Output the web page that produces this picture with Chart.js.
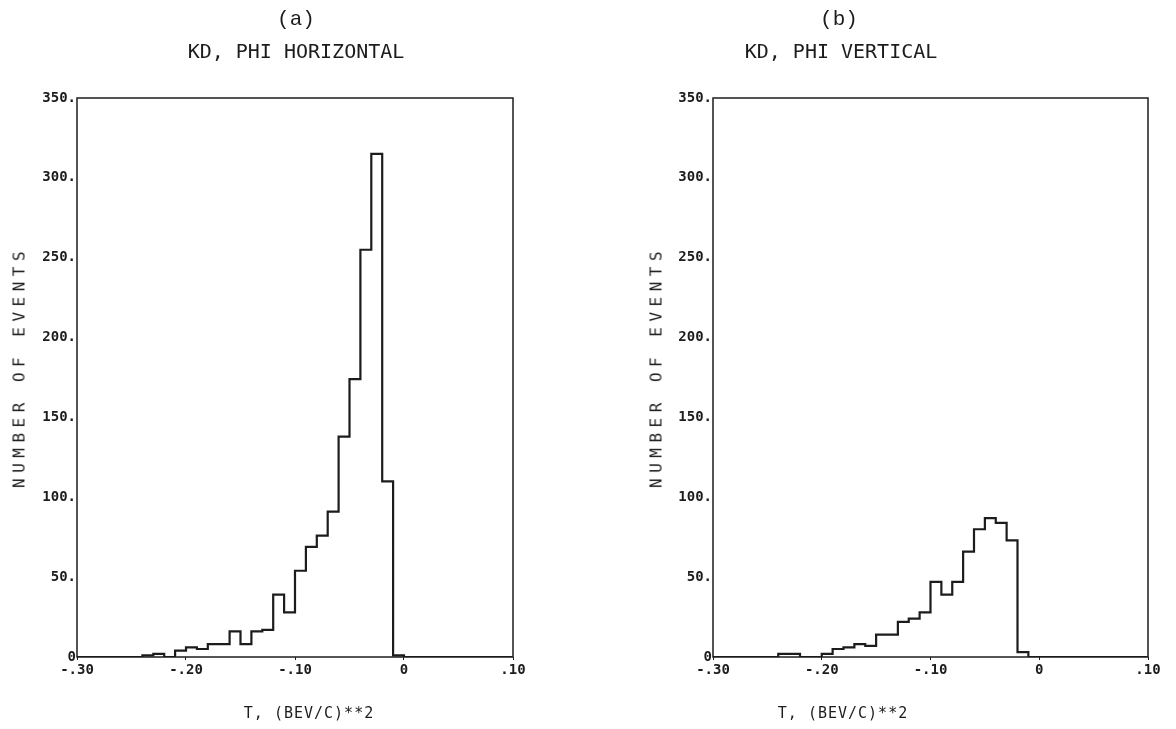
<!DOCTYPE html>
<html lang="en">
<head>
<meta charset="UTF-8">
<title>KD, t distributions</title>
<script src="https://cdn.jsdelivr.net/npm/chart.js"></script>
<style>
  body { margin: 0; background: #fff; }
  .page { position: relative; width: 1176px; height: 729px; overflow: hidden; }
  .page canvas { position: absolute; top: 0; }
  .txt { position: absolute; color: #1c1c1c; white-space: nowrap; transform: translate(-50%, -50%); }
  .tag { font: 21px "Liberation Mono", monospace; }
  .title { font: 20px "DejaVu Sans Mono", monospace; }
  .xtitle { font: 15px "DejaVu Sans Mono", monospace; letter-spacing: 1px; }
  .ytitle { font: 16px "DejaVu Sans Mono", monospace; letter-spacing: 5.5px; transform: translate(-50%, -50%) rotate(-90deg); }
</style>
</head>
<body>
<div class="page">
  <canvas id="chartH" width="588" height="729" style="left:0"></canvas>
  <canvas id="chartV" width="588" height="729" style="left:588px"></canvas>

  <div class="txt tag" style="left:296px; top:19px">(a)</div>
  <div class="txt title" style="left:296px; top:51px">KD, PHI HORIZONTAL</div>
  <div class="txt ytitle" style="left:19px; top:367px">NUMBER OF EVENTS</div>
  <div class="txt xtitle" style="left:309px; top:713px">T, (BEV/C)**2</div>

  <div class="txt tag" style="left:839px; top:19px">(b)</div>
  <div class="txt title" style="left:841px; top:51px">KD, PHI VERTICAL</div>
  <div class="txt ytitle" style="left:656px; top:367px">NUMBER OF EVENTS</div>
  <div class="txt xtitle" style="left:843px; top:713px">T, (BEV/C)**2</div>
</div>

<script>
  // histogram bins: 40 bins of width .01 from t = -.30 to .10
  const binStart = -0.30;
  const binWidth = 0.01;
  const binCount = 40;

  const countsHorizontal = [
    0, 0, 0, 0, 0, 0, 1, 2, 0, 4,
    6, 5, 8, 8, 16, 8, 16, 17, 39, 28,
    54, 69, 76, 91, 138, 174, 255, 315, 110, 1,
    0, 0, 0, 0, 0, 0, 0, 0, 0, 0
  ];
  const countsVertical = [
    0, 0, 0, 0, 0, 0, 2, 2, 0, 0,
    2, 5, 6, 8, 7, 14, 14, 22, 24, 28,
    47, 39, 47, 66, 80, 87, 84, 73, 3, 0,
    0, 0, 0, 0, 0, 0, 0, 0, 0, 0
  ];

  const xTickLabels = ['-.30', '-.20', '-.10', '0', '.10'];
  const yTickLabels = ['0', '50.', '100.', '150.', '200.', '250.', '300.', '350.'];

  const ink = '#1c1c1c';
  const tickFont = { family: 'DejaVu Sans Mono', size: 14, weight: 'bold' };

  const binEdges = Array.from({ length: binCount + 1 }, (_, i) => +(binStart + i * binWidth).toFixed(2));

  // left edge of each bin carries its count, last edge closes the outline
  function stepPoints(counts) {
    const pts = counts.map((c, i) => ({ x: binEdges[i], y: c }));
    pts.push({ x: binEdges[binCount], y: 0 });
    return pts;
  }

  // box around the plotting area
  const frame = {
    id: 'frame',
    afterDraw(chart) {
      const { ctx, chartArea: a } = chart;
      ctx.save();
      ctx.strokeStyle = ink;
      ctx.lineWidth = 1.5;
      ctx.strokeRect(a.left, a.top, a.right - a.left, a.bottom - a.top);
      ctx.restore();
    }
  };

  function makeChart(id, counts, pad) {
    return new Chart(document.getElementById(id), {
      type: 'line',
      data: {
        datasets: [{
          data: stepPoints(counts),
          stepped: 'before',
          borderColor: ink,
          borderWidth: 2.2,
          pointRadius: 0,
          fill: false
        }]
      },
      options: {
        responsive: false,
        animation: false,
        layout: { padding: pad },
        plugins: { legend: { display: false }, tooltip: { enabled: false } },
        scales: {
          x: {
            type: 'linear',
            min: -0.30,
            max: 0.10,
            afterFit: (s) => { s.height = 22; },
            border: { display: false },
            grid: { drawOnChartArea: false, tickLength: 3, color: ink },
            ticks: {
              stepSize: 0.1,
              autoSkip: false,
              maxRotation: 0,
              padding: 2,
              color: ink,
              font: tickFont,
              callback: (v, i) => xTickLabels[i]
            }
          },
          y: {
            min: 0,
            max: 350,
            afterFit: (s) => { s.width = 42; },
            border: { display: false },
            grid: { drawOnChartArea: false, tickLength: 0, color: ink },
            ticks: {
              stepSize: 50,
              padding: 1,
              color: ink,
              font: tickFont,
              callback: (v, i) => yTickLabels[i]
            }
          }
        }
      },
      plugins: [frame]
    });
  }

  makeChart('chartH', countsHorizontal, { left: 35, right: 75, top: 98, bottom: 50 });
  makeChart('chartV', countsVertical, { left: 83, right: 28, top: 98, bottom: 50 });
</script>
</body>
</html>
